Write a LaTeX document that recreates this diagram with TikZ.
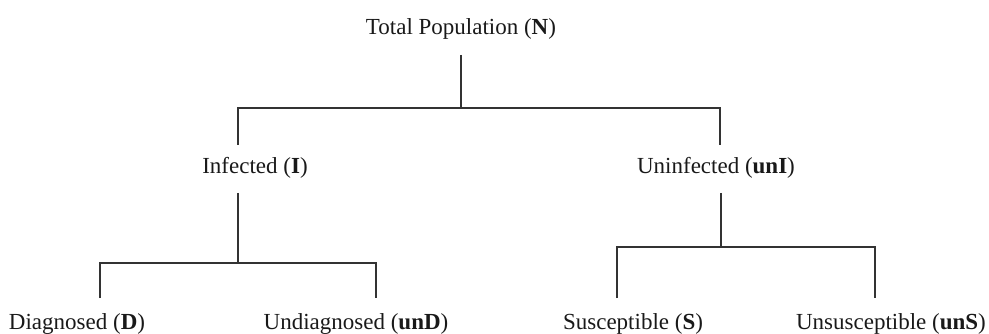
\documentclass[tikz,border=0pt]{standalone}
\usepackage{fontspec}
\setmainfont{Liberation Serif}
\usetikzlibrary{positioning}

\begin{document}
\begin{tikzpicture}[
  x=1pt, y=-1pt,
  every node/.style={font=\fontsize{23}{26}\selectfont},
  lbl/.style={anchor=base, inner sep=0pt, text=black!90},
  branch/.style={line width=1.6pt, draw=black!80},
]
\useasboundingbox (0,0) rectangle (989,334);

% Labels
\node[lbl] (tot) at (461,35) {Total Population (\textbf{N})};
\node[lbl] (inf) at (255,174) {Infected (\textbf{I})};
\node[lbl] (uninf) at (716,174) {Uninfected (\textbf{unI})};
\node[lbl] (diag) at (77,329) {Diagnosed (\textbf{D})};
\node[lbl] (undiag) at (356,329) {Undiagnosed (\textbf{unD})};
\node[lbl] (sus) at (633,329) {Susceptible (\textbf{S})};
\node[lbl] (unsus) at (891,329) {Unsusceptible (\textbf{unS})};

% Line ends and forks
\coordinate (tot-b) at (461,55);
\coordinate (forkA) at (461,108);
\coordinate (inf-t) at (238,145);
\coordinate (uninf-t) at (720,145);
\coordinate (inf-b) at (238,193);
\coordinate (uninf-b) at (721,193);
\coordinate (forkB) at (238,263);
\coordinate (forkC) at (721,247);
\coordinate (diag-t) at (100,298);
\coordinate (undiag-t) at (376,298);
\coordinate (sus-t) at (617,298);
\coordinate (unsus-t) at (875,298);

% Branches
\draw[branch] (tot-b) -- (forkA);
\draw[branch] (inf-t) |- (forkA) -| (uninf-t);
\draw[branch] (inf-b) -- (forkB);
\draw[branch] (diag-t) |- (forkB) -| (undiag-t);
\draw[branch] (uninf-b) -- (forkC);
\draw[branch] (sus-t) |- (forkC) -| (unsus-t);

\end{tikzpicture}
\end{document}
